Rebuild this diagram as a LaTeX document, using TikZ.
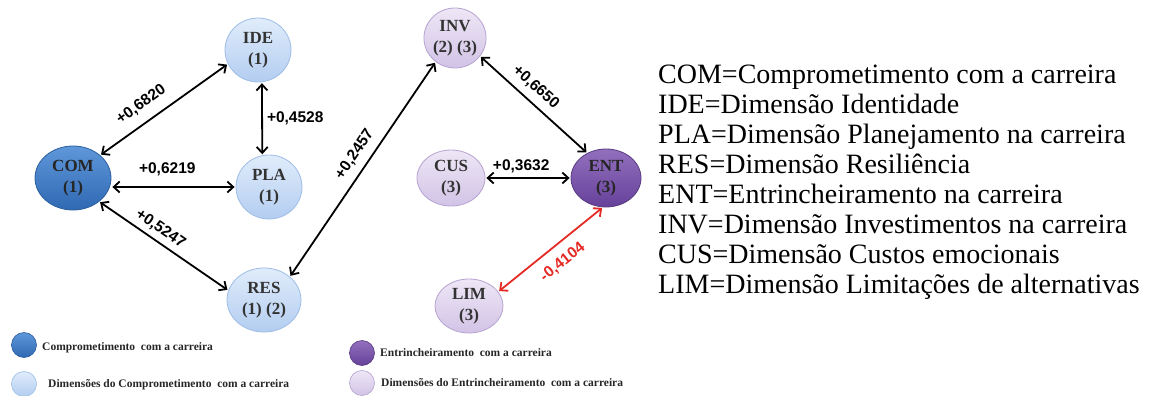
\documentclass[tikz,border=0pt]{standalone}
\usepackage{fontspec}
\setmainfont{Liberation Serif}
\newfontfamily\lsans{Liberation Sans}
\usetikzlibrary{arrows.meta,shapes.geometric}
\definecolor{lbB}{HTML}{9DBDE6}
\definecolor{lbT}{HTML}{E0ECFB}
\definecolor{lbD}{HTML}{B3CDF0}
\definecolor{dbB}{HTML}{2C5F9F}
\definecolor{dbT}{HTML}{5F97DA}
\definecolor{dbD}{HTML}{2F69B2}
\definecolor{dpB}{HTML}{583A80}
\definecolor{dpT}{HTML}{9370BE}
\definecolor{dpD}{HTML}{66419A}
\definecolor{lpB}{HTML}{B6A3D1}
\definecolor{lpT}{HTML}{EEE7F6}
\definecolor{lpD}{HTML}{D2C3E6}
\definecolor{redline}{HTML}{E42A25}
\begin{document}
\begin{tikzpicture}[x=1pt,y=1pt,
  nd/.style={ellipse, line width=0.8pt, inner sep=0pt, align=center,
    font=\fontsize{17}{21}\selectfont\bfseries, text=black!80},
  lblue/.style={nd, draw=lbB, top color=lbT, bottom color=lbD},
  dblue/.style={nd, draw=dbB, top color=dbT, bottom color=dbD, text=black!85},
  dpurp/.style={nd, draw=dpB, top color=dpT, bottom color=dpD, text=black!85},
  lpurp/.style={nd, draw=lpB, top color=lpT, bottom color=lpD},
  tip/.tip={Straight Barb[length=6pt,width=11pt]},
  conn/.style={line width=1.8pt, tip-tip, shorten <=1pt, shorten >=1pt},
  val/.style={font=\lsans\bfseries\fontsize{15.5}{17}\selectfont, inner sep=2pt},
  legc/.style={circle, minimum size=25pt, inner sep=0pt, line width=0.6pt},
  legt/.style={anchor=west, inner sep=0pt, font=\fontsize{11.5}{13}\selectfont\bfseries, text=black!85},
  rt/.style={anchor=base west, inner sep=0pt, font=\fontsize{28}{30}\selectfont}
]
\useasboundingbox (0,0) rectangle (1154,-396);

% nodes
\node[lblue, minimum width=66pt, minimum height=64pt] (IDE) at (258,-50) {IDE\\(1)};
\node[dblue, minimum width=76pt, minimum height=64pt] (COM) at (73,-178) {COM\\(1)};
\node[lblue, minimum width=66pt, minimum height=64pt] (PLA) at (269,-187) {PLA\\(1)};
\node[lblue, minimum width=74pt, minimum height=64pt] (RES) at (264,-300) {RES\\(1) (2)};
\node[lpurp, minimum width=62pt, minimum height=60pt] (INV) at (455,-38) {INV\\(2) (3)};
\node[lpurp, minimum width=68pt, minimum height=56pt] (CUS) at (451,-178) {CUS\\(3)};
\node[dpurp, minimum width=70pt, minimum height=58pt] (ENT) at (606,-178) {ENT\\(3)};
\node[lpurp, minimum width=68pt, minimum height=54pt] (LIM) at (469,-306) {LIM\\(3)};

% connectors
\draw[conn] (COM.40) -- node[val, sloped, above=8pt, pos=0.4] {+0,6820} (IDE.205);
\draw[conn] (IDE.-83) -- node[val, right, pos=0.5, inner sep=4pt] {+0,4528} (PLA.102);
\draw[conn] (PLA.west -| COM.east) -- node[val, above=8pt, pos=0.45] {+0,6219} (PLA.west);
\draw[conn] (COM.-42) -- node[val, sloped, above=3pt, pos=0.42] {+0,5247} (RES.165);
\draw[conn] (RES.42) -- node[val, sloped, above=5.5pt, pos=0.53] {+0,2457} (INV.231);
\draw[conn] (INV.-36) -- node[val, sloped, above=5pt, pos=0.43] {+0,6650} (ENT.127);
\draw[conn] (CUS) -- node[val, above=2pt, pos=0.42] {+0,3632} (ENT);
\draw[conn, draw=redline] (LIM.26) -- node[val, sloped, below=8pt, pos=0.51, text=redline] {-0,4104} (ENT.-96);

% legend
\node[legc, draw=dbB, top color=dbT, bottom color=dbD] (L1) at (24,-345) {};
\node[legt] (T1) at (42,-348) {Comprometimento\ \ com a carreira};
\node[legc, draw=lbB, top color=lbT, bottom color=lbD] (L2) at (24,-384) {};
\node[legt] (T2) at (48,-385) {Dimensões do Comprometimento\ \ com a carreira};
\node[legc, draw=dpB, top color=dpT, bottom color=dpD] (L3) at (362,-353) {};
\node[legt] (T3) at (380,-353) {Entrincheiramento\ \ com a carreira};
\node[legc, draw=lpB, top color=lpT, bottom color=lpD] (L4) at (362,-383) {};
\node[legt] (T4) at (381,-383) {Dimensões do Entrincheiramento\ \ com a carreira};

% right-hand key
\node[rt] (K1) at (658,-83.5) {COM=Comprometimento com a carreira};
\node[rt] (K2) at (658,-113.5) {IDE=Dimensão Identidade};
\node[rt] (K3) at (658,-143.5) {PLA=Dimensão Planejamento na carreira};
\node[rt] (K4) at (658,-173.5) {RES=Dimensão Resiliência};
\node[rt] (K5) at (658,-203.5) {ENT=Entrincheiramento na carreira};
\node[rt] (K6) at (658,-233.5) {INV=Dimensão Investimentos na carreira};
\node[rt] (K7) at (658,-263.5) {CUS=Dimensão Custos emocionais};
\node[rt] (K8) at (658,-293.5) {LIM=Dimensão Limitações de alternativas};
\end{tikzpicture}
\end{document}
